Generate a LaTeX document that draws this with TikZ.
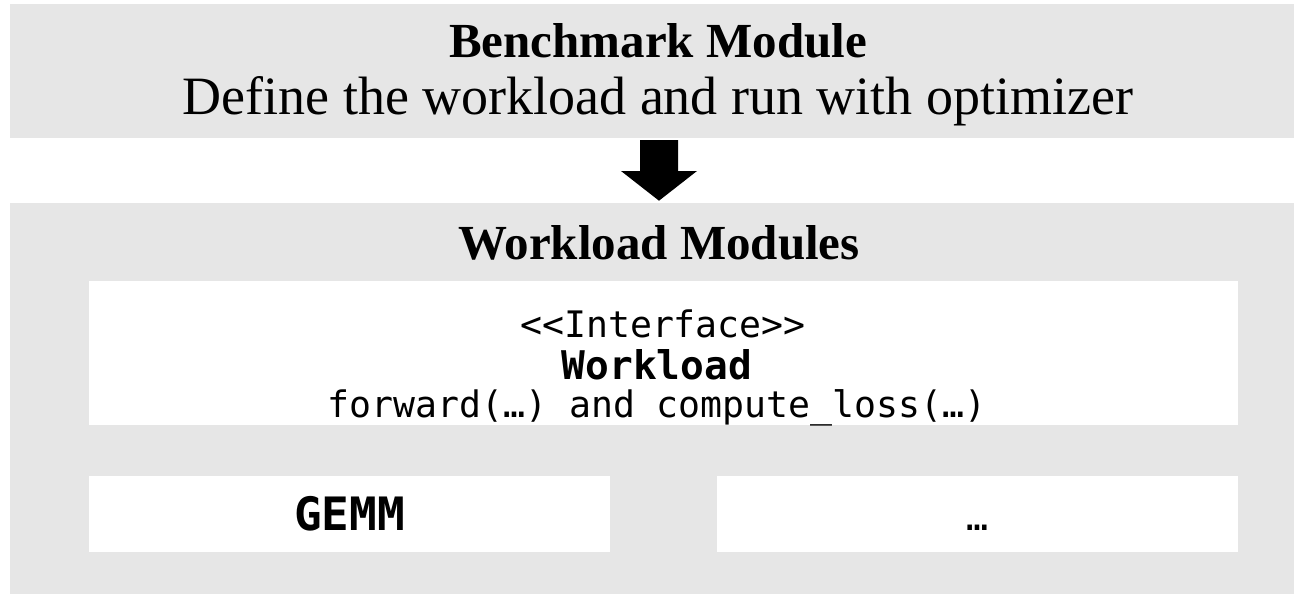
\documentclass[tikz,border=0pt]{standalone}
\usepackage{fontspec}
\newfontfamily\serifT{Liberation Serif}
\newfontfamily\monoT{DejaVu Sans Mono}
\usetikzlibrary{calc}
\definecolor{panelgray}{RGB}{230,230,230}
\begin{document}
\begin{tikzpicture}[x=1pt,y=-1pt,
  panel/.style={fill=panelgray, draw=none, inner sep=0pt, outer sep=0pt},
  card/.style={fill=white, draw=none, inner sep=0pt, outer sep=0pt},
  titlebold/.style={anchor=base, inner sep=0pt, font=\serifT\bfseries\fontsize{49}{53}\selectfont},
  titlereg/.style={anchor=base, inner sep=0pt, font=\serifT\fontsize{54}{58}\selectfont},
  monotext/.style={anchor=base, inner sep=0pt, font=\monoT\fontsize{36.5}{40}\selectfont},
  monobold/.style={anchor=base, inner sep=0pt, font=\monoT\bfseries\fontsize{39.5}{44}\selectfont},
  bigmono/.style={font=\monoT\bfseries\fontsize{46}{50}\selectfont, text height=33pt, text depth=0pt},
  blockarrow/.style={fill=black, draw=none}]
\useasboundingbox (0,0) rectangle (1294,594);
% panels
\node[panel, minimum width=1284pt, minimum height=133.2pt] (bench) at (652,71.1) {};
\node[panel, minimum width=1284pt, minimum height=391.3pt] (wm) at (652,398.35) {};
% titles
\node[titlebold] (benchT) at (658,58) {Benchmark Module};
\node[titlereg] (benchD) at (658,114) {Define the workload and run with optimizer};
\node[titlebold] (wmT) at (659,259) {Workload Modules};
% interface card
\node[card, minimum width=1148.4pt, minimum height=143.7pt] (iface) at (663.5,352.85) {};
\node[monotext] (ifl1) at (663,337) {<{}<Interface>{}>};
\node[monobold] (ifl2) at (657,379) {Workload};
\node[monotext] (ifl3) at (657,417) {forward(…) and compute\_loss(…)};
% workload cards
\node[card, bigmono, minimum width=520.7pt, minimum height=76pt] (gemm) at (349.65,514) {GEMM};
\node[card, minimum width=520.7pt, minimum height=76pt] (more) at (977.35,514) {};
\node[monotext] (moreT) at (977,530) {…};
% block arrow
\coordinate (atop) at (659,140);
\coordinate (atip) at (659,200.7);
\fill[blockarrow] ($(atop)+(-19,0)$) -- ($(atop)+(19,0)$) -- ($(atop)+(19,31)$) -- ($(atop)+(38,31)$)
  -- (atip) -- ($(atop)+(-38,31)$) -- ($(atop)+(-19,31)$) -- cycle;
\end{tikzpicture}
\end{document}
